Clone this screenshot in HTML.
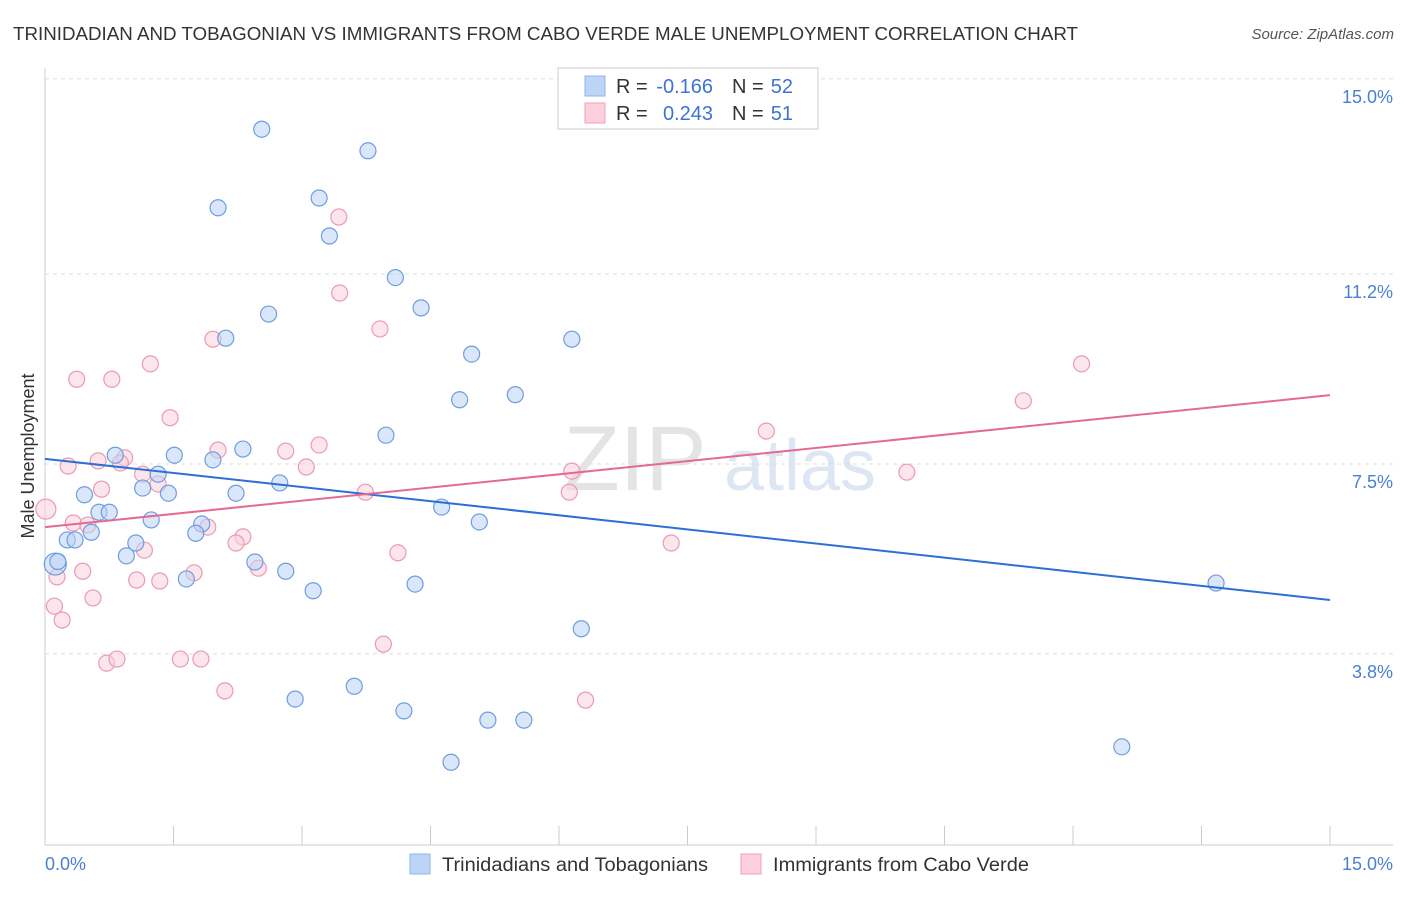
<!DOCTYPE html>
<html><head><meta charset="utf-8"><style>
body{margin:0;background:#fff;font-family:"Liberation Sans",sans-serif}
svg text{font-family:"Liberation Sans",sans-serif}
</style></head><body>
<svg id="chart" width="1406" height="892">
<text x="13" y="40" font-size="18" fill="#333" textLength="1065" lengthAdjust="spacingAndGlyphs">TRINIDADIAN AND TOBAGONIAN VS IMMIGRANTS FROM CABO VERDE MALE UNEMPLOYMENT CORRELATION CHART</text>
<text x="1394" y="39" font-size="15" fill="#555" text-anchor="end" font-style="italic">Source: ZipAtlas.com</text>
<text x="635" y="490" font-size="92" fill="#e4e4e4" font-family="Liberation Serif" text-anchor="middle">ZIP</text>
<text x="800" y="490" font-size="72" fill="#dde6f3" text-anchor="middle">atlas</text>
<g id="grid"></g><g id="axes"></g><g id="pts"></g><g id="trend"></g>
<text transform="translate(34,456) rotate(-90)" font-size="18" fill="#333" text-anchor="middle">Male Unemployment</text>
<text x="45" y="870" font-size="18" fill="#4a7fd6">0.0%</text>
<text x="1393" y="870" font-size="18" fill="#4a7fd6" text-anchor="end">15.0%</text>
<g>
<rect x="558" y="68" width="260" height="61" fill="#fff" stroke="#ccc"/>
<rect x="585" y="76" width="20" height="20" fill="#bcd4f5" stroke="#8fb3e8"/>
<rect x="585" y="103" width="20" height="20" fill="#fbd0dc" stroke="#f0a2b9"/>
<text x="616" y="93" font-size="20" fill="#333">R =</text>
<text x="713" y="93" font-size="20" fill="#3b74d3" text-anchor="end">-0.166</text>
<text x="732" y="93" font-size="20" fill="#333">N =</text>
<text x="793" y="93" font-size="20" fill="#3b74d3" text-anchor="end">52</text>
<text x="616" y="120" font-size="20" fill="#333">R =</text>
<text x="713" y="120" font-size="20" fill="#3b74d3" text-anchor="end">0.243</text>
<text x="732" y="120" font-size="20" fill="#333">N =</text>
<text x="793" y="120" font-size="20" fill="#3b74d3" text-anchor="end">51</text>
</g>
<g>
<rect x="410" y="854" width="20" height="20" fill="#bcd4f5" stroke="#8fb3e8"/>
<text x="442" y="871" font-size="19" fill="#333" textLength="266" lengthAdjust="spacingAndGlyphs">Trinidadians and Tobagonians</text>
<rect x="741" y="854" width="20" height="20" fill="#fbd0dc" stroke="#f0a2b9"/>
<text x="773" y="871" font-size="19" fill="#333" textLength="256" lengthAdjust="spacingAndGlyphs">Immigrants from Cabo Verde</text>
</g>
</svg>
<script>
const yTicks=[15.0,11.2,7.5,3.8];
const yTickLabels=["15.0%","11.2%","7.5%","3.8%"];
const blueX=[2.53,3.77,2.02,3.20,3.32,4.09,2.61,4.39,2.11,6.15,4.98,4.84,5.49,3.98,2.31,1.51,1.96,0.82,1.32,2.74,1.14,1.44,2.23,0.46,0.63,0.75,1.24,4.63,5.07,0.54,0.26,0.35,1.83,1.76,1.06,0.95,2.45,2.81,1.65,0.12,3.13,4.32,13.67,6.26,2.92,3.61,4.19,5.17,5.59,4.74,12.57,0.15];
const blueY=[14.02,13.60,12.49,12.68,11.94,11.13,10.42,10.54,9.95,9.93,9.64,8.75,8.85,8.06,7.79,7.67,7.58,7.67,7.30,7.13,7.03,6.93,6.93,6.90,6.56,6.56,6.41,6.66,6.37,6.17,6.02,6.02,6.33,6.15,5.96,5.71,5.59,5.41,5.26,5.55,5.03,5.16,5.18,4.29,2.92,3.17,2.69,2.51,2.51,1.69,1.99,5.60];
const blueR=[8,8,8,8,8,8,8,8,8,8,8,8,8,8,8,8,8,8,8,8,8,8,8,8,8,8,8,8,8,8,8,8,8,8,8,8,8,8,8,11,8,8,8,8,8,8,8,8,8,8,8,8];
const pinkX=[0.01,3.43,3.44,3.91,1.96,1.23,0.37,0.78,12.10,11.42,1.46,8.42,3.20,2.02,2.81,0.62,0.93,0.88,0.27,3.05,10.06,6.15,1.14,1.32,0.66,3.74,6.12,0.33,0.50,1.90,2.31,2.23,1.16,7.31,4.12,2.49,0.44,1.74,0.14,1.07,1.34,0.56,0.11,0.20,3.95,0.72,0.84,1.58,1.82,2.10,6.31];
const pinkY=[6.62,12.31,10.83,10.13,9.93,9.45,9.15,9.15,9.45,8.73,8.40,8.14,7.87,7.77,7.75,7.56,7.62,7.52,7.46,7.44,7.34,7.36,7.30,7.11,7.01,6.95,6.95,6.35,6.31,6.27,6.08,5.96,5.82,5.96,5.77,5.47,5.41,5.38,5.30,5.24,5.22,4.89,4.73,4.46,3.99,3.62,3.70,3.70,3.70,3.08,2.90];
const blueTrend=[7.60,4.85];
const pinkTrend=[6.27,8.84];
const xDomain=[0,15];
const X=v=>45+v*(1330-45)/15;
const Y=v=>849-v*(575/11.2);
const NS="http://www.w3.org/2000/svg";
function mk(parent,tag,attrs){const e=document.createElementNS(NS,tag);for(const k in attrs)e.setAttribute(k,attrs[k]);document.getElementById(parent).appendChild(e);return e;}
yTicks.forEach((t,i)=>{
 const l=mk('grid','line',{x1:45,x2:1393,y1:Y(t),y2:Y(t),stroke:'#ddd','stroke-dasharray':'4,4'});
 
 
 const tx=mk('grid','text',{x:1393,y:Y(t)+24,'font-size':18,fill:'#4a7fd6','text-anchor':'end'});
 tx.textContent=yTickLabels[i];
 
 
});
const ya=mk('axes','line',{x1:45,x2:45,y1:68,y2:845,stroke:'#ccc'});


const xa=mk('axes','line',{x1:45,x2:1393,y1:845,y2:845,stroke:'#ccc'});


for(let i=0;i<=10;i++){
 const v=xDomain[0]+i*1.5;
 const t=mk('axes','line',{x1:X(v),x2:X(v),y1:826,y2:845,stroke:'#ccc'});
 
 
}
function pts(xs,ys,rs,fill,stroke,name){
 xs.forEach((x,i)=>{
  const c=mk('pts','circle',{cx:X(x),cy:Y(ys[i]),r:rs?rs[i]:8,fill:fill,'fill-opacity':0.55,stroke:stroke,'stroke-width':1.2});
  
  
 });
}
pts(pinkX,pinkY,pinkX.map((x,i)=>i===0?10:8),'#fbd0dc','#eb9ab3','cabo-verde-point');
pts(blueX,blueY,blueR,'#bcd4f5','#6e9ddf','trinidadian-point');
const bl=mk('trend','line',{x1:X(0),y1:Y(blueTrend[0]),x2:X(15),y2:Y(blueTrend[1]),stroke:'#2c6fd6','stroke-width':2});


const pl=mk('trend','line',{x1:X(0),y1:Y(pinkTrend[0]),x2:X(15),y2:Y(pinkTrend[1]),stroke:'#e46a92','stroke-width':2});


</script>
</body></html>
